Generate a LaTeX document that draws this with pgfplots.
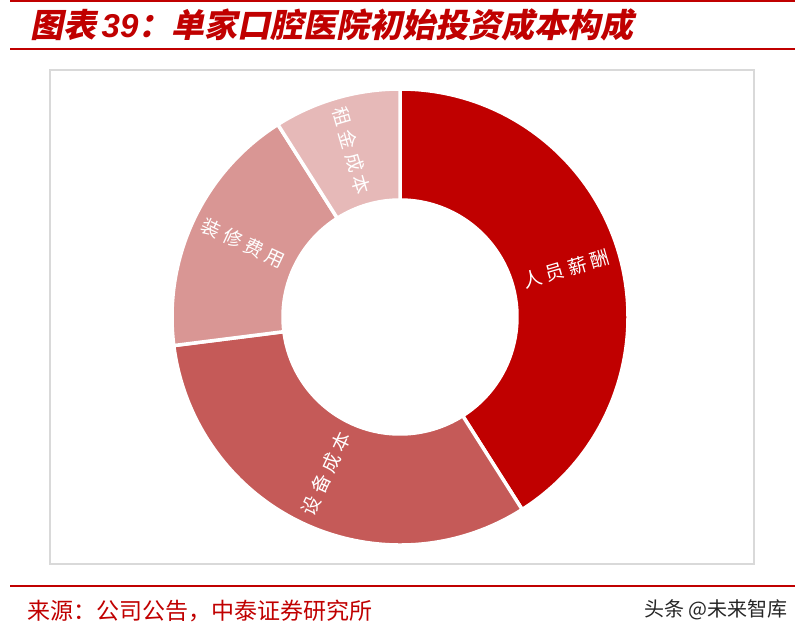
\documentclass[border=0pt]{standalone}
\usepackage{pgfplots}
\usepackage{pgfplotstable}
\pgfplotsset{compat=1.18}
\usepackage{fontspec}
\setmainfont{Liberation Sans}
\newfontfamily\cjk{Noto Sans CJK SC}
\newfontfamily\cjktitle[FakeSlant=0.2]{Noto Sans CJK SC}
\newfontfamily\latintitle{Liberation Sans}
\newfontfamily\cjklabel[LetterSpace=24]{Noto Sans CJK SC}

\definecolor{hdred}{HTML}{C00000}
\definecolor{seg0}{HTML}{C00000}
\definecolor{seg1}{HTML}{C55A58}
\definecolor{seg2}{HTML}{D99694}
\definecolor{seg3}{HTML}{E6B9B8}
\definecolor{boxgray}{HTML}{D9D9D9}

% share of initial investment, percent
\pgfplotstableread{
name value
人员薪酬 41
设备成本 32
装修费用 18
租金成本 9
}\costdata

\begin{document}
\begin{tikzpicture}
\begin{axis}[
    scale only axis,
    width=800bp, height=636bp,
    xmin=0, xmax=800, ymin=0, ymax=636,
    hide axis, clip=false]

% page frame, rules and chart box
\path (axis cs:0,0) rectangle (axis cs:800,636);
\draw[hdred, line width=1.5bp] (axis cs:10,635) -- (axis cs:795,635);
\draw[hdred, line width=1.5bp] (axis cs:10,587) -- (axis cs:795,587);
\draw[hdred, line width=1.5bp] (axis cs:10,50) -- (axis cs:795,50);
\draw[boxgray, line width=1.5bp] (axis cs:50,566) rectangle (axis cs:754,72);

% title
\node[anchor=west, text=hdred, inner sep=0pt] at (axis cs:30,611)
  {\fontsize{33bp}{36bp}\selectfont\bfseries\cjktitle 图表\,\latintitle\itshape 39\cjktitle：单家口腔医院初始投资成本构成};

% donut
\def\startang{90}
\pgfplotsforeachungrouped \i in {0,...,3} {
  \pgfplotstablegetelem{\i}{value}\of\costdata
  \let\segval\pgfplotsretval
  \pgfplotstablegetelem{\i}{name}\of\costdata
  \let\segname\pgfplotsretval
  \pgfmathsetmacro\endang{\startang-3.6*\segval}
  \pgfmathsetmacro\midang{(\startang+\endang)/2}
  \pgfmathsetmacro\rot{cos(\midang)>0 ? \midang : \midang+180}
  \pgfmathsetmacro\xa{400+228*cos(\startang)}
  \pgfmathsetmacro\ya{319+228*sin(\startang)}
  \pgfmathsetmacro\xb{400+117*cos(\endang)}
  \pgfmathsetmacro\yb{319+117*sin(\endang)}
  \pgfmathsetmacro\xm{400+173*cos(\midang)}
  \pgfmathsetmacro\ym{319+173*sin(\midang)}
  \edef\temp{%
    \noexpand\fill[seg\i, draw=white, line width=3.5bp]
      (axis cs:\xa,\ya) arc[start angle=\startang, end angle=\endang, radius=228bp]
      -- (axis cs:\xb,\yb) arc[start angle=\endang, end angle=\startang, radius=117bp]
      -- cycle;
    \noexpand\node[rotate=\rot, text=white, inner sep=0pt]
      at (axis cs:\xm,\ym) {\noexpand\fontsize{19bp}{21bp}\noexpand\selectfont\noexpand\cjklabel \segname};
  }
  \temp
  \global\let\startang\endang
}

% source and watermark
\node[anchor=west, text=hdred, inner sep=0pt] at (axis cs:27,25)
  {\fontsize{23bp}{26bp}\selectfont\cjk 来源：公司公告，中泰证券研究所};
\node[anchor=east, text=black!85, inner sep=0pt] at (axis cs:788,26)
  {\fontsize{20bp}{23bp}\selectfont\cjk 头条 @未来智库};
\end{axis}
\end{tikzpicture}
\end{document}
